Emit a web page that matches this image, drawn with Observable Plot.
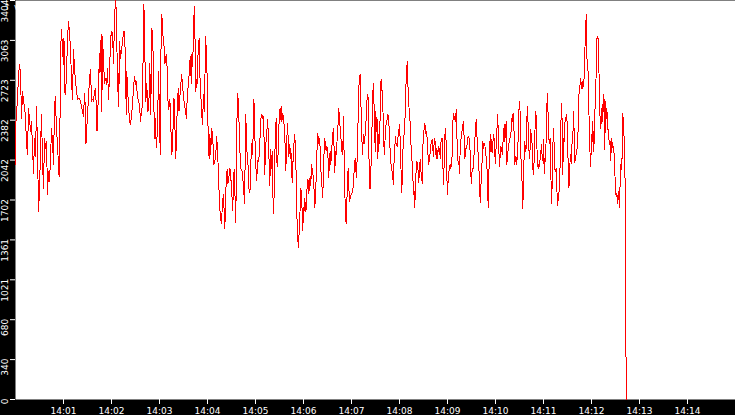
<!DOCTYPE html>
<html><head><meta charset="utf-8">
<script src="https://cdn.jsdelivr.net/npm/d3@7"></script>
<script src="https://cdn.jsdelivr.net/npm/@observablehq/plot@0.6"></script>
<style>
html,body{margin:0;padding:0;background:#fff;}
</style></head><body><div id="chart"></div>
<script>
// [seconds after 14:00:00, value]
const readings = [
[0,2008],[0.6,2374],[2.5,2570],[3.8,2757],[5,2859],[6.3,2783],[7.5,2400],[8.8,2630],[10,2544],[11.3,2502],[12.5,2400],[13.8,2179],[15,2093],[16.3,2485],[18.8,2289],[20,2374],[21.3,2145],[22.5,1932],[23.8,2230],[25,2076],[26.3,2502],[27.5,2145],[28.8,1608],[30,1779],[31.3,2145],[32.5,2434],[33.8,2034],[35,1804],[36.3,2230],[37.5,2145],[38.8,2204],[40,1753],[41.3,1949],[42.5,1864],[43.8,2059],[45,2315],[46.3,2204],[47.5,2008],[48.8,2502],[50,2587],[51.3,2247],[52.5,2230],[53.8,1932],[55,1906],[55.6,2357],[56.3,2953],[57.5,3157],[58.8,2987],[60,2859],[60.6,3081],[61.3,2630],[62.5,2604],[63.8,2774],[65,3081],[66.3,3225],[67.5,3123],[68.8,2996],[70,2715],[71.3,2562],[72.5,2987],[73.8,2825],[75,2715],[76.3,2630],[77.5,2562],[80,2570],[82.5,2502],[85,2417],
[86.3,2613],[87.5,2459],[88.1,2179],[88.8,2272],[90,2434],[91.3,2570],[92.5,2740],[93.8,2817],[95,2544],[96.3,2562],[97.5,2544],[98.8,2630],[100,2655],[101.3,2459],[101.9,2289],[102.5,2332],[103.8,2689],[105,2953],[105.6,2783],[107.1,3115],[107.9,2459],[108.8,3098],[110,2885],[111.3,2698],[112.5,2740],[113.8,2689],[114.6,2757],[115,2825],[116.3,2562],[117.5,2774],[118.8,3072],[120,3140],[121.3,3123],[122.5,2868],[123.8,3251],[125,3404],[126.3,3293],[127.5,2630],[128.4,2783],[129.1,2502],[130,3055],[131.3,2910],[132.5,2987],[133.8,3038],[135,3140],[136.3,3140],[137.5,2868],[138.4,2434],[139.1,2800],[140,2647],[141.3,2519],[142.5,2374],[143.8,2349],[145,2417],[146.3,2527],[147.5,2655],[148.8,2757],[150,2689],[150.9,2715],[151.6,2647],[152.5,2587],[153.8,2544],[155,2519],[156.3,2374],[157.5,2459],[158.4,2502],[159.6,2944],[160.4,3370],[161.3,3183],[162.1,2774],[162.9,2544],[164.1,2698],[165.4,2459],[166.6,2485],[167.9,2868],[169.1,2434],[170.4,3166],[171.6,3115],[172.5,2672],[173.8,2230],[175,2400],[175.9,2145],[177.1,2264],[177.9,2459],[178.8,2800],[180,2417],[180.9,2093],[181.6,2902],[182.9,3285],[184.1,3115],[185.4,3055],[186.6,2868],[187.5,2885],[188.4,2944],[189.6,2825],[190.4,2562],[191.6,2476],[192.9,2562],[193.8,2434],[194.6,2230],[195.4,2093],[196.3,2162],[197.1,2357],[197.9,2570],
[198.8,2544],[199.4,2289],[200.4,2059],[201.3,2272],[202.5,2570],[203.8,2655],[204.4,2459],[205,2544],[206.3,2647],[207.5,2774],[208.8,2689],[210,2570],[211.3,2519],[212.5,2459],[213.8,2400],[214.6,2570],[215.4,2647],[216.6,2715],[217.5,2859],[218.8,2927],[219.6,2698],[220.4,2944],[221.6,2842],[222.5,3208],[223.8,3353],[224.6,2970],[225.4,2630],[226.3,2732],[227.1,2698],[228.4,2996],[229.6,3081],[230.4,2783],[231.6,2604],[232.9,2417],[233.8,2349],[235,2604],[236.3,2459],[237.5,3098],[238.4,2996],[239.6,2740],[240.4,2400],[241.3,2145],[242.1,2059],[242.9,2264],[244.1,2093],[245,2315],[246.3,2264],[247.1,2145],[247.9,2008],[249.1,2034],[250.4,2093],[251.6,2247],[252.5,2093],[253.8,1949],[254.6,1736],[255.4,1625],[256.3,1549],[257.5,1498],[258.8,1693],[260,1753],[260.9,1583],[261.6,1455],[262.5,1634],[263.4,1889],[264.6,1966],[265.4,1838],[266.6,1889],[267.9,1974],[268.8,1932],[270,1804],[270.9,1693],[271.6,1608],[272.5,1889],[273.4,1966],[274.6,1693],[275.4,1506],[276.3,2187],[277.5,2613],[278.8,2527],[280,2204],[280.9,2059],[282.1,1949],[282.9,1966],[284.1,1889],[285.4,1779],[286.3,1668],[287.1,2059],[287.9,2434],[288.8,2162],[290,2059],[290.9,1974],[292.1,1762],[293.4,1796],[294.1,2008],[295.4,2187],[296.3,2093],[297.1,2272],[297.9,2562],[298.8,2442],[299.6,2119],[300.9,1923],[301.6,1864],[302.5,2034],[303.4,2051],[304.1,2034],[305,2145],[305.9,2264],[306.6,2391],[307.9,2434],[308.8,2400],[310,2417],[310.9,2162],
[311.6,1923],[312.5,2162],[313.8,2230],[315,2391],[315.9,2289],[317.1,2008],[317.9,1821],[318.8,2136],[319.6,1966],[320.9,2119],[321.6,1779],[322.5,1591],[323.8,1847],[324.6,2230],[325.9,2400],[326.6,2034],[327.5,1991],[328.4,2119],[329.1,2289],[330,2476],[330.9,2391],[332.1,2502],[332.9,2374],[334.1,2442],[335,2391],[336.3,2315],[337.1,2145],[337.9,1949],[338.8,2162],[340,2357],[340.9,2221],[341.6,2076],[342.5,2179],[343.4,2059],[344.1,2145],[345,2008],[345.9,1847],[346.6,1974],[347.5,2145],[348.4,2204],[349.1,2264],[350,2119],[350.9,1889],[351.6,1583],[352.5,1464],[353.4,1294],[354.1,1379],[355,1455],[355.9,1668],[356.6,1804],[357.5,1753],[358.4,1583],[359.1,1438],[360,1634],[360.9,1608],[361.6,1719],[362.5,1608],[363.4,1625],[364.1,1753],[365,1881],[365.9,1864],[366.6,1753],[367.5,1838],[368.4,1906],[369.1,1821],[370,2008],[370.9,1966],[371.6,1923],[372.5,1906],[373.4,1753],[374.1,1634],[375,1736],[375.9,1906],[376.6,2059],[377.5,2272],[378.4,2179],[379.1,2247],[380,2204],[380.9,2145],[381.6,1974],[382.5,1864],[383.4,1796],[384.1,1719],[385,1974],[385.9,2145],[386.6,2230],[387.5,2145],[388.4,2119],[389.1,2162],[390,2136],[390.9,2034],[391.6,1889],[392.5,2059],[393.4,2119],[394.1,2008],[395,2093],[395.9,2204],[396.6,2264],[397.5,2315],[398.4,2102],[399.1,1932],[400,2119],[400.9,2093],[401.6,2145],[402.5,2315],[403.4,2349],[404.1,2485],[405,2400],[405.9,2306],[406.6,2272],[407.5,2119],[408.4,2204],[409.1,2093],[410,2417],[410.9,2008],[411.6,1804],[412.5,1540],[413.4,1498],[414.1,1651],[415,1889],[415.9,1974],[416.6,1821],[417.5,1693],[418.4,1719],[419.1,1736],[420,1753],[420.9,1762],[421.6,1779],[422.9,1889],
[423.8,2034],[425,2059],[425.9,1889],[427.1,2051],[428.4,2434],[429.6,2732],[430.9,2774],[431.6,2570],[432.9,2230],[433.8,2093],[435,2264],[435.9,2179],[436.6,2221],[437.9,2332],[438.8,2502],[440,2604],[440.9,2570],[441.6,2179],[442.5,1804],[443.8,1796],[445,2187],[446.3,2459],[447.1,2698],[447.9,2570],[448.8,2400],[449.6,2119],[450.4,2459],[451.3,2289],[452.1,2391],[452.9,2059],[453.8,2264],[454.6,2179],[455.4,2264],[456.3,2655],[457.1,2732],[457.9,2655],[459.1,2562],[460,2221],[461.3,2093],[462.5,2332],[463.4,2349],[464.6,2391],[465.4,2434],[466.6,2391],[467.5,2230],[469.1,2017],[470.4,1966],[471.3,1906],[472.5,1838],[473.4,2093],[474.1,2145],[475,2247],[475.9,2162],[476.6,2187],[477.5,2162],[478.4,2272],[479.1,2289],[480,2349],[480.9,2204],[481.6,1991],[482.5,1906],[482.9,1762],[484.1,2093],[485,2230],[485.9,2272],[486.6,2315],[487.5,2570],[488.8,2817],[490,2885],[490.9,2570],[491.6,2519],[492.5,2434],[493.8,2315],[494.6,2119],[495.4,2059],[496.6,1923],[497.5,1753],[498.4,1779],[499.1,1634],[500,1838],[500.9,1974],[501.6,2034],[502.5,2017],[503.4,1932],[504.1,1847],[505,1974],[505.9,2051],[506.6,1949],[507.5,1932],[508.4,1838],[509.1,2145],[510,2247],[510.9,2315],[511.6,2357],[512.5,2306],[513.4,2247],[514.1,2289],[515,2145],[515.9,2059],[516.6,2008],[517.5,2076],[518.4,2102],[519.1,2179],[520,2187],[520.9,2221],[521.6,2145],[522.5,2076],[523.4,2204],[524.1,2230],[525,2145],[525.9,2059],[526.6,2145],[527.5,2059],[528.4,2162],[529.1,2119],[530,2145],[530.9,2059],[531.6,2187],[532.5,2221],[533.4,2230],[534.1,2034],[535,1838],[535.9,2034],
[537.1,2315],[538.4,2187],[539.1,1923],[540,1753],[540.9,1889],[542.5,1991],[543.4,2008],[544.1,1966],[545,2008],[545.9,2093],[546.6,2357],[547.5,2442],[548.4,2391],[549.1,2417],[550,2374],[550.9,2476],[551.6,2289],[552.5,2093],[553.4,2017],[554.1,2034],[555,1932],[555.9,2145],[556.6,2204],[558.4,2306],[560,2374],[560.9,2204],[561.6,2051],[562.5,2093],[563.4,2162],[564.1,2145],[565,2230],[566.6,2247],[567.5,2204],[568.4,2102],[569.1,1923],[570,1847],[570.9,1974],[571.6,1949],[572.5,1991],[573.4,2119],[574.1,2204],[575,2315],[575.9,2391],[576.6,2289],[577.5,2145],[578.4,2093],[580,1864],[580.9,1676],[581.6,1779],[582.5,1949],[583.4,2051],[584.1,2204],[585,2145],[585.9,2179],[586.6,2187],[587.5,2102],[589.1,2034],[590,1838],[590.9,1634],[591.6,1847],[592.5,2204],[593.4,2119],[594.1,2264],[595,2145],[595.9,2102],[596.6,2179],[597.5,2264],[598.4,2221],[599.1,2093],[600,2017],[600.9,2179],[601.6,2264],[602.5,2434],[603.4,2306],[604.1,2145],[605,1991],[605.9,2093],[606.6,2162],[607.5,2145],[608.4,2093],[609.1,2187],[610,2221],[610.9,2349],[611.6,2204],[612.5,2289],[613.4,2374],[614.1,2008],[615,2059],[615.9,2145],[616.6,2179],[619.1,2264],[620,2306],[620.9,2434],[621.6,2374],[622.5,2442],[623.4,2230],[624.1,2008],[625,2076],[625.9,2059],[626.6,2008],[627.5,2102],[628.4,2230],[629.1,2442],[630,2544],[630.9,2434],[631.6,2119],[632.5,1923],[633.4,1838],[634.1,1625],[635,1864],[635.9,2119],[636.6,2204],[637.5,2119],[638.4,2145],[639.1,2374],[640,2502],[640.9,2315],[641.6,2145],[642.5,2059],[643.4,2162],[644.1,2306],[645,2204],[645.9,2179],[646.6,1974],[647.5,1923],[648.4,2051],
[650,2459],[650.9,2417],[651.6,2204],[652.5,1991],[653.4,2008],[654.1,1974],[655,2008],[655.9,2059],[656.6,2102],[657.5,2179],[658.4,2059],[659.1,2034],[660,2221],[660.9,1923],[661.6,2059],[662.5,2034],[663.4,2247],[664.1,2485],[665,2613],[665.9,2391],[666.6,2230],[667.5,2187],[668.4,2230],[669.1,1966],[670,1676],[670.9,1838],[671.6,2145],[672.5,2315],[673.4,2145],[674.1,1966],[675,1949],[675.9,1974],[676.6,1821],[677.5,1651],[678.4,1762],[679.1,1693],[680,1923],[680.9,1991],[681.6,2315],[682.5,2527],[683.4,2349],[684.1,1923],[685,2230],[685.9,2204],[686.6,2349],[687.5,2400],[688.4,2417],[689.1,2434],[690,2264],[690.9,1974],[691.6,1804],[692.5,1847],[693.4,2093],[694.1,2059],[695,2017],[695.9,2247],[696.6,2204],[697.5,2459],[698.4,2264],[699.1,2017],[700,2059],[700.9,2093],[701.6,2102],[702.5,2204],[703.4,2315],[704.1,2570],[705,2672],[705.9,2689],[706.6,2740],[707.5,2655],[708.4,2715],[709.1,2655],[710,2689],[710.9,2757],[711.6,2953],[712.5,3123],[713.4,3285],[714.1,2944],[715,2817],[715.9,2800],[716.6,2519],[717.5,2230],[718.4,2059],[719.1,1991],[720,2264],[720.9,2204],[721.6,2374],[722.5,2119],[723.4,2204],[724.1,2400],[725,2630],[725.9,2783],[726.6,3072],[727.5,3098],[728.4,3072],[729.1,2885],[730,2570],[730.9,2357],[731.6,2315],[733.4,2519],[734.1,2374],[735,2604],[735.9,2544],[736.6,2136],[737.5,2544],[738.4,2400],[739.1,2485],[740.9,2272],[742.5,2179],[743.4,2204],[744.1,2034],[745,2230],[745.9,2179],[746.6,2145],[747.5,2162],[748.4,2076],[749.1,1966],[750,1779],[750.9,1736],[751.6,1762],[752.5,1668],[753.4,1779],[754.1,1736],[755,1634],[755.9,1889],[756.6,2008],[757.5,1966],[758.4,2093],[759.1,2442],[760,2349],[760.9,2204],[761.6,2093],[762.5,1464],[762.9,502],[763.8,0]
];
const yTickValues = [0, 340.4, 680.8, 1021.2, 1361.6, 1702, 2042.4, 2382.8, 2723.2, 3063.6, 3404];
const yTickLabels = ["0","340","680","1021","1361","1702","2042","2382","2723","3063","3404"];
const xTickLabels = ["14:01","14:02","14:03","14:04","14:05","14:06","14:07","14:08","14:09","14:10","14:11","14:12","14:13","14:14"];
const xStart = "14:00", xEnd = "14:15";
const yMax = 3404;

const hm = s => { const [h, m] = s.split(":").map(Number); return new Date(Date.UTC(2000, 0, 1, h, m, 0)); };
const t0 = hm(xStart).getTime();
const data = readings.map(([s, v]) => ({time: new Date(t0 + s * 1000), value: v}));
const xTicks = xTickLabels.map(hm);

const chart = Plot.plot({
  width: 735, height: 415,
  marginTop: 0, marginRight: 0, marginBottom: 16, marginLeft: 15,
  style: {background: "black", fontFamily: "'DejaVu Sans'", fontSize: "9px", overflow: "visible"},
  x: {type: "utc", domain: [hm(xStart), hm(xEnd)]},
  y: {domain: [0, yMax]},
  marks: [
    Plot.frame({fill: "white", stroke: "none"}),
    Plot.line(data, {x: "time", y: "value", stroke: "#ff0000", strokeWidth: 1, shapeRendering: "crispEdges"}),
    Plot.axisX(xTicks, {tickSize: 5, color: "white", tickPadding: 3, tickFormat: d3.utcFormat("%H:%M"), fontSize: 9}),
    Plot.axisY(yTickValues, {tickSize: 5, color: "white", tickFormat: () => ""}),
    Plot.text(yTickValues, {y: d => d, text: (d, i) => yTickLabels[i], frameAnchor: "left", dx: -10, dy: -1, rotate: -90, textAnchor: "end", lineAnchor: "middle", fill: "white", fontSize: 9})
  ]
});
document.getElementById("chart").appendChild(chart);
</script></body></html>
